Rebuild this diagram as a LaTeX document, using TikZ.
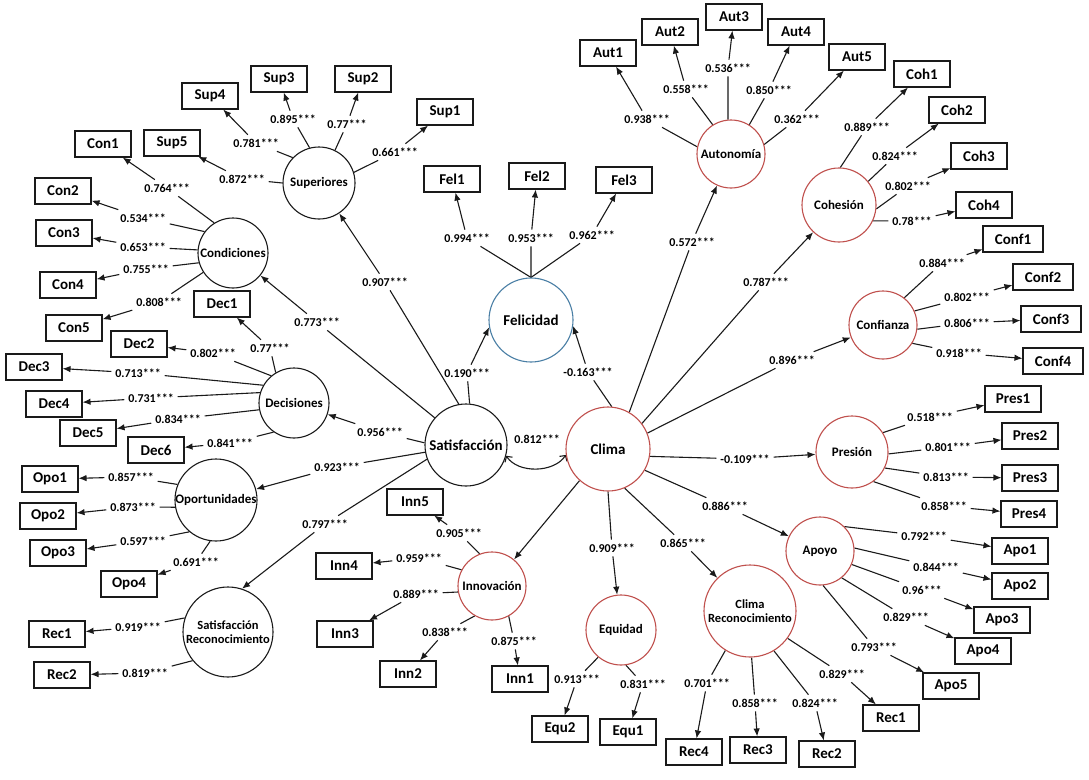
\documentclass[tikz,border=0pt]{standalone}
\usepackage{fontspec}
\setmainfont{Carlito}
\usetikzlibrary{arrows.meta}
\definecolor{cred}{HTML}{C0504D}
\definecolor{cblue}{HTML}{4A7FA5}
\definecolor{cline}{HTML}{1A1A1A}
\pgfdeclarelayer{back}
\pgfdeclarelayer{edges}
\pgfsetlayers{back,edges,main}
\begin{document}
\begin{tikzpicture}[x=1pt,y=-1pt,
  box/.style={draw=cline, line width=1.1pt, minimum width=56pt, minimum height=26pt, inner sep=1pt, font={\fontsize{15}{16}\selectfont\bfseries}},
  wbox/.style={box, minimum width=60pt},
  lv/.style={circle, draw=cline, line width=1.1pt, inner sep=0pt, align=center, font={\fontsize{13}{14}\selectfont\bfseries}},
  lvr/.style={lv, draw=cred},
  big/.style={font={\fontsize{15}{16}\selectfont\bfseries}},
  two/.style={font={\fontsize{12.5}{14.5}\selectfont\bfseries}},
  lab/.style={inner sep=1pt, outer sep=3pt, font={\fontsize{12}{13}\selectfont\bfseries}},
  arr/.style={draw=cline, line width=1.1pt, -{Latex[length=8pt,width=6.5pt]}},
  dbl/.style={draw=cline, line width=1.1pt, {Straight Barb[length=4pt,width=9pt]}-{Straight Barb[length=4pt,width=9pt]}},
]
\begin{pgfonlayer}{back}
\fill[white] (0,0) rectangle (1089,779);
\end{pgfonlayer}
\useasboundingbox (0,0) rectangle (1089,779);

% latent variables
\node[lv, minimum size=72pt] (sup) at (319,183) {Superiores};
\node[lv, minimum size=70pt] (cond) at (233,253) {Condiciones};
\node[lv, minimum size=70pt] (dec) at (294,403) {Decisiones};
\node[lv, minimum size=82pt] (opo) at (216,500) {Oportunidades};
\node[lv, two, minimum size=90pt] (satrec) at (228,632) {Satisfacción\\Reconocimiento};
\node[lv, big, minimum size=82pt] (sat) at (466,445) {Satisfacción};
\node[lv, big, draw=cblue, minimum size=84pt] (fel) at (531,320) {Felicidad};
\node[lvr, big, minimum size=84pt] (clima) at (608,449) {Clima};
\node[lvr, minimum size=68pt] (aut) at (731,154) {Autonomía};
\node[lvr, minimum size=74pt] (coh) at (839,205) {Cohesión};
\node[lvr, minimum size=68pt] (conf) at (883,325) {Confianza};
\node[lvr, minimum size=72pt] (pres) at (852,452) {Presión};
\node[lvr, minimum size=68pt] (apo) at (820,551) {Apoyo};
\node[lvr, two, minimum size=92pt] (climrec) at (750,611) {Clima\\Reconocimiento};
\node[lvr, minimum size=70pt] (equ) at (621,630) {Equidad};
\node[lvr, minimum size=68pt] (inn) at (492,586) {Innovación};

% indicators
\foreach \n/\t/\x/\y in {sup1/Sup1/445/112, sup2/Sup2/363/79, sup3/Sup3/279/79, sup4/Sup4/210/96, sup5/Sup5/172/143,
  con1/Con1/103/144, con2/Con2/63/191, con3/Con3/64/233, con4/Con4/68/285, con5/Con5/74/328,
  dec1/Dec1/222/304, dec2/Dec2/139/344, dec3/Dec3/34/367, dec4/Dec4/54/404, dec5/Dec5/88/433, dec6/Dec6/156/450,
  opo1/Opo1/50/479, opo2/Opo2/48/516, opo3/Opo3/58/553, opo4/Opo4/129/584,
  recl1/Rec1/57/634, recl2/Rec2/62/675,
  fel1/Fel1/452/179, fel2/Fel2/537/176, fel3/Fel3/624/180,
  aut1/Aut1/608/53, aut2/Aut2/670/32, aut3/Aut3/734/17, aut4/Aut4/796/32, aut5/Aut5/857/57,
  coh1/Coh1/922/74, coh2/Coh2/957/110, coh3/Coh3/979/156, coh4/Coh4/984/205,
  pres1/Pres1/1013/399, pres2/Pres2/1030/436, pres3/Pres3/1030/478, pres4/Pres4/1029/514,
  apo1/Apo1/1020/551, apo2/Apo2/1020/586, apo3/Apo3/1002/620, apo4/Apo4/983/651, apo5/Apo5/951/686,
  recr1/Rec1/891/718, recr2/Rec2/827/754, recr3/Rec3/758/750, recr4/Rec4/694/752,
  equ1/Equ1/628/732, equ2/Equ2/560/729,
  inn1/Inn1/520/679, inn2/Inn2/408/674, inn3/Inn3/345/634, inn4/Inn4/344/566, inn5/Inn5/415/502}
  \node[box] (\n) at (\x,\y) {\t};
\foreach \n/\t/\x/\y in {conf1/Conf1/1013/239, conf2/Conf2/1043/277, conf3/Conf3/1051/319, conf4/Conf4/1053/361}
  \node[wbox] (\n) at (\x,\y) {\t};

% loadings
\def\indlist{sup/17/sup1/395/152/0.661***, sup/64/sup2/347/124/0.77***, sup/105/sup3/293/119/0.895***,
  sup/136/sup4/256/143/0.781***, sup/180/sup5/242/179/0.872***,
  cond/122/con1/167/188/0.764***, cond/143/con2/143/218/0.534***, cond/175/con3/143/247/0.653***,
  cond/196/con4/146/269/0.755***, cond/213/con5/159/302/0.808***,
  dec/121/dec1/270/348/0.77***, dec/130/dec2/213/353/0.802***, dec/150/dec3/138/373/0.713***,
  dec/163/dec4/151/398/0.731***, dec/191/dec5/178/419/0.834***, dec/235/dec6/230/443/0.841***,
  opo/158/opo1/131/477/0.857***, opo/190/opo2/133/507/0.873***, opo/230/opo3/143/541/0.597***,
  opo/262/opo4/196/562/0.691***,
  satrec/162/recl1/138/627/0.919***, satrec/219/recl2/145/673/0.819***,
  fel/north/fel1/467/238/0.994***, fel/north/fel2/531/238/0.953***, fel/north/fel3/592/235/0.962***,
  aut/168/aut1/647/119/0.938***, aut/122/aut2/686/89/0.558***, aut/95/aut3/728/68/0.536***,
  aut/58/aut4/769/90/0.850***, aut/16/aut5/797/119/0.362***,
  coh/88/coh1/867/127/0.889***, coh/39/coh2/895/156/0.824***, coh/-6/coh3/908/186/0.802***,
  coh/-25/coh4/912/221/0.78***,
  conf/52/conf1/942/263/0.884***, conf/24/conf2/967/297/0.802***, conf/-7/conf3/967/323/0.806***,
  conf/-32/conf4/959/353/0.918***,
  pres/32/pres1/930/417/0.518***, pres/-3/pres2/948/447/0.801***, pres/-26/pres3/946/477/0.813***,
  pres/-54/pres4/944/506/0.858***,
  apo/45/apo1/924/536/0.792***, apo/5/apo2/936/567/0.844***, apo/-23/apo3/922/590/0.96***,
  apo/-51/apo4/906/617/0.829***, apo/-85/apo5/874/647/0.793***,
  climrec/-36/recr1/842/674/0.829***, climrec/-59/recr2/815/703/0.824***,
  climrec/-88/recr3/755/703/0.858***, climrec/-122/recr4/707/683/0.701***,
  equ/-130/equ2/577/679/0.913***, equ/-82/equ1/643/684/0.831***,
  inn/111/inn5/459/533/0.905***, inn/152/inn4/419/558/0.959***, inn/190/inn3/416/594/0.889***,
  inn/240/inn2/445/632/0.838***, inn/-61/inn1/514/641/0.875***}

\foreach \a/\ang/\b/\lx/\ly/\t in \indlist
  \node[lab] (l\b) at (\lx,\ly) {\t};

% structural labels
\node[lab] (lsup) at (385,282) {0.907***};
\node[lab] (lcond) at (317,322) {0.773***};
\node[lab] (ldec) at (380,432) {0.956***};
\node[lab] (lopo) at (337,467) {0.923***};
\node[lab] (lsatrec) at (325,524) {0.797***};
\node[lab] (lsatfel) at (467,373) {0.190***};
\node[lab] (lclifel) at (588,372) {-0.163***};
\node[lab] (lcor) at (537,439) {0.812***};
\node[lab] (laut) at (692,242) {0.572***};
\node[lab] (lcoh) at (766,282) {0.787***};
\node[lab] (lconf) at (792,360) {0.896***};
\node[lab] (lpres) at (745,459) {-0.109***};
\node[lab] (lapo) at (725,506) {0.886***};
\node[lab] (lclimrec) at (683,543) {0.865***};
\node[lab] (lequ) at (612,548) {0.909***};

\begin{pgfonlayer}{edges}
\foreach \a/\ang/\b/\lx/\ly/\t in \indlist
  \draw[arr] (\a.\ang) -- (l\b) -- (\b);
\draw[arr] (sat.100) -- (lsup) -- (sup);
\draw[arr] (sat.139) -- (lcond) -- (cond);
\draw[arr] (sat.177) -- (ldec) -- (dec);
\draw[arr] (sat.190) -- (lopo) -- (opo);
\draw[arr] (sat.200) -- (lsatrec) -- (satrec.72);
\draw[arr] (sat.85) -- (lsatfel) -- (fel.190);
\draw[arr] (clima.85) -- (lclifel) -- (fel.-8);
\draw[arr] (clima.60) -- (laut) -- (aut);
\draw[arr] (clima.37) -- (lcoh) -- (coh);
\draw[arr] (clima.22) -- (lconf) -- (conf);
\draw[arr] (clima.-10) -- (lpres) -- (pres);
\draw[arr] (clima.-30) -- (lapo) -- (apo);
\draw[arr] (clima.-67) -- (lclimrec) -- (climrec);
\draw[arr] (clima.-90) -- (lequ) -- (equ);
\draw[arr] (clima.-132) -- (inn);
\draw[dbl] (sat.-15) .. controls +(12,18) and +(-12,18) .. (clima.188);
\end{pgfonlayer}
\end{tikzpicture}
\end{document}
